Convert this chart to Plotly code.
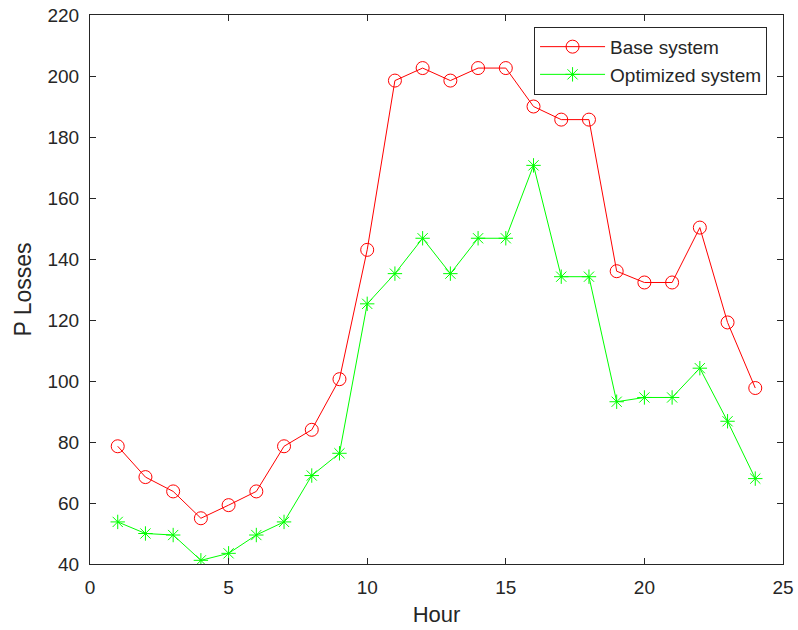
import plotly.graph_objects as go

hours = list(range(1, 25))
base_system = [78.6, 68.5, 63.8, 55.0, 59.3, 63.8, 78.6, 84.0, 100.6, 143.0,
               198.5, 202.6, 198.5, 202.6, 202.6, 190.0, 185.7, 185.7, 136.0,
               132.3, 132.3, 150.3, 119.2, 97.7]
optimized_system = [53.8, 50.0, 49.5, 41.2, 43.5, 49.5, 53.8, 69.0, 76.3, 125.3,
                    135.2, 146.8, 135.2, 146.8, 146.8, 170.7, 134.2, 134.2, 93.2,
                    94.6, 94.6, 104.2, 86.8, 68.0]
x_ticks = [0, 5, 10, 15, 20, 25]
y_ticks = [40, 60, 80, 100, 120, 140, 160, 180, 200, 220]

FONT = "Liberation Sans, Arial, Helvetica"
TXT = "#262626"

fig = go.Figure()
fig.add_trace(go.Scatter(
    x=hours, y=base_system, name="Base system", mode="lines+markers",
    line=dict(color="#ff0000", width=1),
    marker=dict(symbol="circle-open", size=13, color="#ff0000", line=dict(width=1)),
))
fig.add_trace(go.Scatter(
    x=hours, y=optimized_system, name="Optimized system", mode="lines+markers",
    line=dict(color="#00ff00", width=1),
    marker=dict(symbol="asterisk-open", size=12, color="#00ff00", line=dict(width=1, color="#00ff00")),
))

axis_common = dict(
    showgrid=False, zeroline=False, showline=True, linecolor=TXT, linewidth=1,
    mirror="ticks", ticks="inside", ticklen=6, tickcolor=TXT, automargin=False,
    ticklabelstandoff=6,
    tickfont=dict(family=FONT, size=19, color=TXT),
)
fig.update_xaxes(range=[0, 25], tickvals=x_ticks,
                 title=dict(text="Hour", font=dict(family=FONT, size=22, color=TXT), standoff=9),
                 **axis_common)
fig.update_yaxes(range=[40, 220], tickvals=y_ticks,
                 title=dict(text="P Losses", font=dict(family=FONT, size=23, color=TXT), standoff=9),
                 **axis_common)

fig.update_layout(
    width=798, height=630,
    margin=dict(l=90, r=15, t=15, b=66),
    plot_bgcolor="white", paper_bgcolor="white",
    font=dict(family=FONT, color=TXT),
    legend=dict(
        x=0.977, y=0.9785, xanchor="right", yanchor="top",
        bgcolor="white", bordercolor=TXT, borderwidth=1,
        font=dict(family=FONT, size=19, color=TXT),
        itemwidth=65, tracegroupgap=0,
    ),
)

fig.write_html(
    "out.html",
    config={"displayModeBar": False},
    post_script="document.body.style.margin='0';document.body.style.overflow='hidden';",
)
